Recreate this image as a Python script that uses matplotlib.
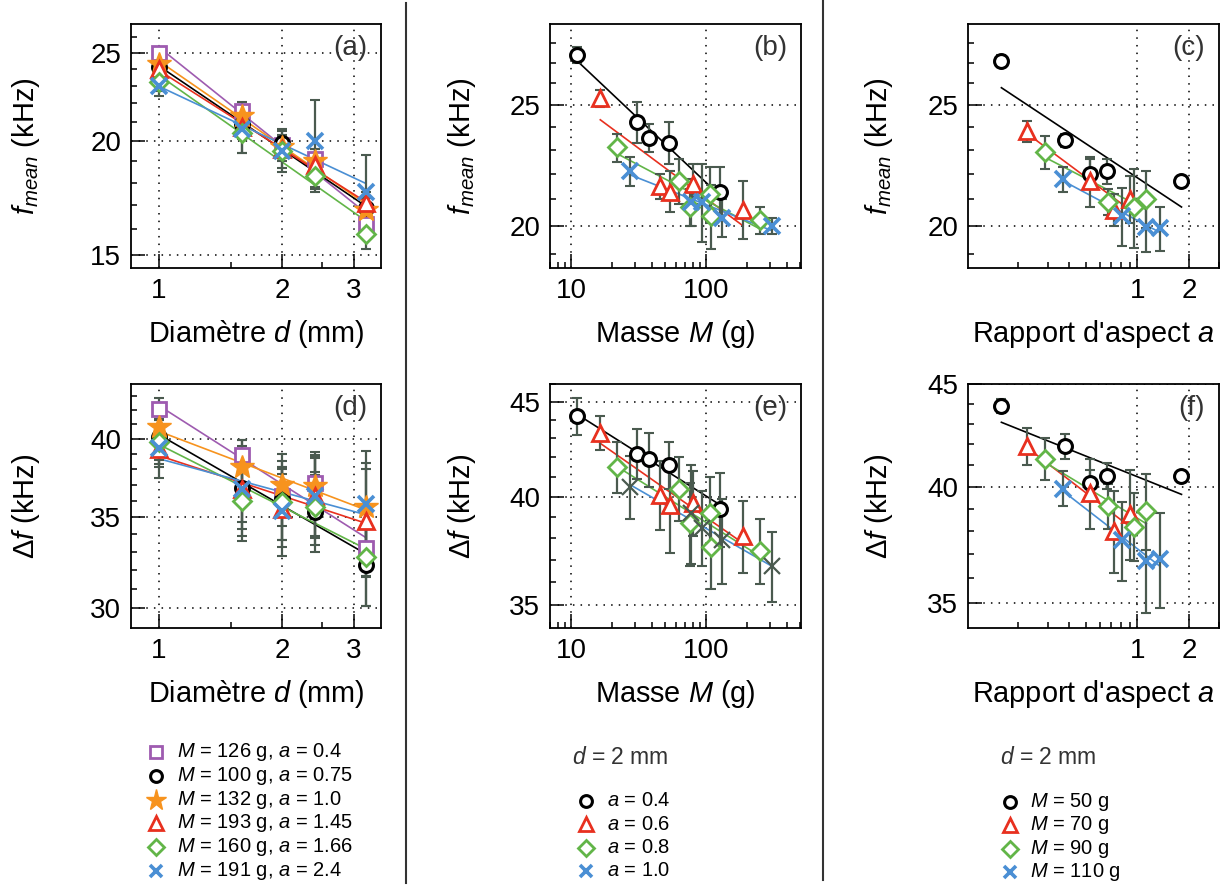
import numpy as np
import matplotlib
matplotlib.use('Agg')
import matplotlib.pyplot as plt
from matplotlib.lines import Line2D
from matplotlib.ticker import NullFormatter

plt.rcParams['font.family'] = ['Liberation Sans', 'DejaVu Sans']
plt.rcParams['mathtext.fontset'] = 'custom'
plt.rcParams['mathtext.rm'] = 'Liberation Sans'
plt.rcParams['mathtext.it'] = 'Liberation Sans:italic'
plt.rcParams['mathtext.bf'] = 'Liberation Sans:bold'

# ---------------- data ----------------
# (a), (d): vary diameter d (mm), six samples
d_mm = [1, 1.6, 2, 2.4, 3.2]
d_labels = ['$M$ = 126 g, $a$ = 0.4', '$M$ = 100 g, $a$ = 0.75', '$M$ = 132 g, $a$ = 1.0',
            '$M$ = 193 g, $a$ = 1.45', '$M$ = 160 g, $a$ = 1.66', '$M$ = 191 g, $a$ = 2.4']
fmean_d = [[25.0, 21.6, 19.8, 19.1, 16.2],
           [24.1, 20.9, 19.9, 18.4, 16.9],
           [24.3, 21.3, 19.7, 19.0, 16.8],
           [24.0, 20.7, 19.6, 18.8, 17.1],
           [23.2, 20.4, 19.5, 18.3, 15.8],
           [23.0, 20.6, 19.5, 20.0, 17.6]]
fmean_d_err = [[0.3, 0.5, 0.5, 0.5, 0.4],
               [0.5, 0.7, 0.7, 0.7, 0.5],
               [0.3, 0.5, 0.5, 0.6, 0.5],
               [0.4, 0.6, 0.6, 0.6, 0.5],
               [0.5, 1.0, 0.8, 0.7, 0.6],
               [0.6, 1.2, 1.0, 2.2, 1.7]]
df_d = [[42.1, 38.9, 36.3, 37.1, 33.2],
        [40.1, 36.8, 36.1, 35.3, 32.3],
        [40.8, 38.1, 37.0, 36.9, 35.6],
        [39.3, 36.7, 35.5, 36.3, 34.8],
        [39.8, 36.0, 35.9, 35.6, 32.7],
        [39.4, 36.7, 35.4, 36.3, 35.8]]
df_d_err = [[0.8, 1.0, 1.8, 2.0, 1.5],
            [1.5, 2.5, 2.4, 2.3, 2.2],
            [1.2, 1.8, 2.0, 2.0, 2.8],
            [1.2, 2.0, 2.2, 2.4, 3.2],
            [1.5, 2.4, 2.2, 2.2, 2.6],
            [2.0, 2.8, 2.6, 2.5, 3.4]]

# (b), (e): vary mass M (g), d = 2 mm, four aspect ratios
m_labels = ['$a$ = 0.4', '$a$ = 0.6', '$a$ = 0.8', '$a$ = 1.0']
mass_g = [[11.1, 30.8, 37.6, 53.5, 126],
          [16.5, 45.3, 54.4, 79.6, 188],
          [21.9, 62.7, 75.6, 107.6, 109.5, 250],
          [27.5, 77.4, 93.5, 131, 307]]
fmean_m = [[27.4, 24.2, 23.5, 23.3, 21.3],
           [25.3, 21.5, 21.3, 21.6, 20.6],
           [23.1, 21.7, 20.7, 21.2, 20.35, 20.2],
           [22.1, 20.9, 20.9, 20.3, 20.0]]
fmean_m_err = [[0.4, 0.9, 0.6, 0.9, 1.0],
               [0.4, 0.5, 0.8, 0.8, 1.1],
               [0.6, 0.9, 0.7, 1.1, 1.2, 0.5],
               [0.6, 0.9, 1.5, 0.7, 0.3]]
df_m = [[44.2, 42.2, 41.9, 41.6, 39.4],
        [43.3, 40.1, 39.6, 39.7, 38.1],
        [41.5, 40.4, 38.7, 39.2, 37.6, 37.4],
        [40.5, 39.2, 38.5, 37.9, 36.7]]
df_m_err = [[1.0, 1.3, 1.4, 1.2, 1.8],
            [0.9, 1.7, 2.3, 1.6, 1.7],
            [1.3, 1.6, 2.0, 1.8, 1.9, 1.5],
            [1.6, 2.4, 1.8, 2.0, 1.6]]

# (c), (f): vary aspect ratio a, d = 2 mm, four masses
a_labels = ['$M$ = 50 g', '$M$ = 70 g', '$M$ = 90 g', '$M$ = 110 g']
aspect = [[0.16, 0.375, 0.527, 0.66, 1.81],
          [0.226, 0.527, 0.73, 0.90],
          [0.287, 0.668, 0.956, 1.128],
          [0.365, 0.816, 1.123, 1.355]]
fmean_a = [[27.1, 23.4, 22.0, 22.1, 21.7],
           [23.8, 21.7, 20.6, 21.0],
           [22.9, 20.9, 20.7, 21.0],
           [21.8, 20.35, 19.95, 19.9]]
fmean_a_err = [[0.3, 0.3, 0.6, 0.5, 0.15],
               [0.45, 1.0, 0.6, 0.9],
               [0.7, 0.5, 1.5, 1.1],
               [0.5, 1.1, 0.9, 0.8]]
df_a = [[43.9, 41.9, 40.15, 40.5, 40.5],
        [41.9, 39.7, 38.0, 38.75],
        [41.3, 39.1, 38.2, 38.9],
        [39.9, 37.6, 36.7, 36.8]]
df_a_err = [[0.35, 0.6, 0.6, 0.6, 0.1],
            [0.9, 1.6, 1.8, 2.0],
            [1.0, 1.0, 1.5, 1.7],
            [0.8, 1.7, 2.1, 2.0]]

# ---------------- styles ----------------
ECOL = '#4a5a4f'
PURPLE = dict(marker='s', color='#9e5bb0', ms=10.5, mfc='white', mew=2.0)
BLACK = dict(marker='o', color='black', ms=10, mfc='white', mew=2.2)
ORANGE = dict(marker='*', color='#f7931e', ms=18, mfc='#f7931e', mew=1.0)
RED = dict(marker='^', color='#e8301f', ms=12, mfc='white', mew=2.0)
GREEN = dict(marker='D', color='#62b548', ms=9.5, mfc='white', mew=2.0)
BLUE = dict(marker='x', color='#4a8fd4', ms=11, mfc='white', mew=2.6)

styles_d = [PURPLE, BLACK, ORANGE, RED, GREEN, BLUE]
styles_4 = [BLACK, RED, GREEN, BLUE]


def draw_series(ax, x, y, err, st, mcolor=None, mew=None):
    x = np.asarray(x, float)
    y = np.asarray(y, float)
    # power-law fit, straight on log-log axes
    p = np.polyfit(np.log10(x), np.log10(y), 1)
    xs = np.array([x.min(), x.max()])
    ax.plot(xs, 10 ** np.polyval(p, np.log10(xs)), color=st['color'], lw=1.2, zorder=2)
    ax.errorbar(x, y, yerr=err, fmt='none', ecolor=ECOL, elinewidth=1.6,
                capsize=3.5, capthick=1.5, zorder=3)
    mc = mcolor or st['color']
    ax.plot(x, y, ls='none', marker=st['marker'], ms=st['ms'], mec=mc,
            mfc=st['mfc'] if st['marker'] != '*' else mc,
            mew=mew or st['mew'], zorder=4)


def setup(ax, xlim, ylim, xmaj, xmin, ymaj, ymin, xlabel, ylabel, tag, ylab_x):
    ax.set_xscale('log')
    ax.set_yscale('log')
    ax.set_xlim(xlim)
    ax.set_ylim(ylim)
    ax.set_xticks(xmaj, labels=[('%g' % v) for v in xmaj])
    ax.set_xticks(xmin, minor=True)
    ax.set_yticks(ymaj, labels=[('%g' % v) for v in ymaj])
    ax.set_yticks(ymin, minor=True)
    ax.xaxis.set_minor_formatter(NullFormatter())
    ax.yaxis.set_minor_formatter(NullFormatter())
    ax.tick_params(which='both', direction='in', top=False, right=False,
                   labelsize=20, pad=7)
    ax.tick_params(which='major', length=10, width=1.1)
    ax.tick_params(which='minor', length=4.5, width=1.1)
    ax.grid(which='major', ls=(0, (1, 4)), color='black', lw=1.1)
    for s in ax.spines.values():
        s.set_linewidth(1.3)
    ax.set_xlabel(xlabel, fontsize=20.8, labelpad=10)
    ax.set_ylabel(ylabel, fontsize=21)
    ax.yaxis.set_label_coords(ylab_x, 0.5)
    ax.text(0.945, 0.9, tag, transform=ax.transAxes, ha='right', va='center',
            fontsize=20, color='#333333')


W, H = 1230, 886
fig = plt.figure(figsize=(W / 100, H / 100), dpi=100)


def axes_px(x0, x1, y0, y1):
    return fig.add_axes([x0 / W, 1 - y1 / H, (x1 - x0) / W, (y1 - y0) / H])


ax_a = axes_px(131, 381, 24, 268)
ax_b = axes_px(550, 801, 24, 268)
ax_c = axes_px(968, 1219, 24, 268)
ax_d = axes_px(131, 381, 384, 628)
ax_e = axes_px(550, 801, 384, 628)
ax_f = axes_px(968, 1219, 384, 628)

d_lim = (0.854, 3.49)
m_lim = (7.03, 505)
a_lim = (0.102, 2.98)
m_minor = [7, 8, 9, 20, 30, 40, 50, 60, 70, 80, 90, 200, 300, 400, 500]
a_minor = [0.2, 0.3, 0.4, 0.5, 0.6, 0.7, 0.8, 0.9, 3]

lab_fm = '$f_{mean}$ (kHz)'
lab_df = r'$\Delta f$ (kHz)'
lab_d = 'Diamètre $d$ (mm)'
lab_m = 'Masse $M$ (g)'
lab_a = "Rapport d'aspect $a$"

setup(ax_a, d_lim, (14.5, 26.9), [1, 2, 3], [1.5, 2.5], [15, 20, 25],
      [16, 17, 18, 19, 21, 22, 23, 24, 26], lab_d, lab_fm, '(a)', -0.356)
setup(ax_b, m_lim, (18.5, 29.0), [10, 100], m_minor, [20, 25],
      [19, 21, 22, 23, 24, 26, 27, 28], lab_m, lab_fm, '(b)', -0.287)
setup(ax_c, a_lim, (18.5, 29.0), [1, 2], a_minor, [20, 25],
      [19, 21, 22, 23, 24, 26, 27, 28], lab_a, lab_fm, '(c)', -0.291)
setup(ax_d, d_lim, (29.0, 43.9), [1, 2, 3], [1.5, 2.5], [30, 35, 40],
      [31, 32, 33, 34, 36, 37, 38, 39, 41, 42, 43], lab_d, lab_df, '(d)', -0.356)
setup(ax_e, m_lim, (34.0, 46.0), [10, 100], m_minor, [35, 40, 45],
      [36, 37, 38, 39, 41, 42, 43, 44, 46], lab_m, lab_df, '(e)', -0.287)
setup(ax_f, a_lim, (34.0, 45.0), [1, 2], a_minor, [35, 40, 45],
      [36, 37, 38, 39, 41, 42, 43, 44], lab_a, lab_df, '(f)', -0.291)

for i, st in enumerate(styles_d):
    draw_series(ax_a, d_mm, fmean_d[i], fmean_d_err[i], st)
    draw_series(ax_d, d_mm, df_d[i], df_d_err[i], st)

for i, st in enumerate(styles_4):
    draw_series(ax_b, mass_g[i], fmean_m[i], fmean_m_err[i], st)
    if st is BLUE:
        draw_series(ax_e, mass_g[i], df_m[i], df_m_err[i], st, mcolor=ECOL, mew=1.6)
    else:
        draw_series(ax_e, mass_g[i], df_m[i], df_m_err[i], st)
    draw_series(ax_c, aspect[i], fmean_a[i], fmean_a_err[i], st)
    draw_series(ax_f, aspect[i], df_a[i], df_a_err[i], st)

# column separators
for xs, y0, y1 in [(406, 3, 883), (823, 0, 880)]:
    fig.add_artist(Line2D([xs / W, xs / W], [1 - y0 / H, 1 - y1 / H],
                          transform=fig.transFigure, color='#333333', lw=1.5))


# hand-placed legends under each column
def legend_rows(labels, styles, mx, tx, y0, dy, ms_scale=0.85):
    for i, (lab, st) in enumerate(zip(labels, styles)):
        y = 1 - (y0 + i * dy) / H
        mfc = st['color'] if st['marker'] == '*' else st['mfc']
        fig.add_artist(Line2D([mx / W], [y], transform=fig.transFigure, ls='none',
                              marker=st['marker'], ms=st['ms'] * ms_scale,
                              mec=st['color'], mfc=mfc, mew=st['mew']))
        fig.text(tx / W, y, lab, fontsize=14.5, ha='left', va='center')


legend_rows(d_labels, styles_d, 156, 177, 752, 23.8)
fig.text(572 / W, 1 - 757 / H, '$d$ = 2 mm', fontsize=16.5, ha='left', va='center',
         color='#333333')
legend_rows(m_labels, styles_4, 586, 607, 801, 23.3)
fig.text(1000 / W, 1 - 758 / H, '$d$ = 2 mm', fontsize=16.5, ha='left', va='center',
         color='#333333')
legend_rows(a_labels, styles_4, 1010, 1030, 802, 23.3)

fig.savefig('out.png', dpi=100)
